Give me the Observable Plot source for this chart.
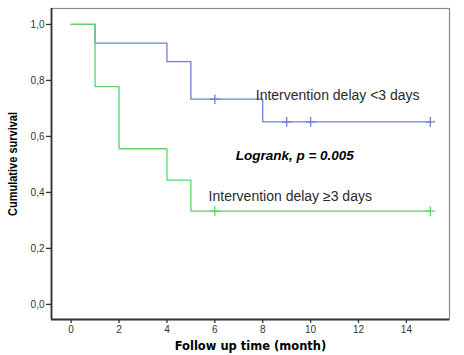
<!DOCTYPE html>
<html>
<head>
<meta charset="utf-8">
<script src="https://cdn.jsdelivr.net/npm/d3@7"></script>
<script src="https://cdn.jsdelivr.net/npm/@observablehq/plot@0.6"></script>
<style>
  html, body { margin: 0; padding: 0; background: #fff; }
</style>
</head>
<body>
<div id="chart"></div>
<script>
// Kaplan-Meier step data
const lowTime = [0, 1, 4, 5, 8, 15];
const lowSurv = [1.0, 0.933, 0.867, 0.733, 0.652, 0.652];
const lowCensor = [6, 9, 10, 15];

const highTime = [0, 1, 2, 4, 5, 15];
const highSurv = [1.0, 0.778, 0.556, 0.444, 0.333, 0.333];
const highCensor = [6, 15];

const xTicks = [0, 2, 4, 6, 8, 10, 12, 14];
const yTicks = [0, 0.2, 0.4, 0.6, 0.8, 1.0];

const labelLow = "Intervention delay <3 days";
const labelHigh = "Intervention delay \u22653 days";
const logrank = "Logrank, p = 0.005";
const xLabel = "Follow up time (month)";
const yLabel = "Cumulative survival";

const blue = "#6b80d2";
const green = "#5fd46c";

const mk = (t, s) => t.map((d, i) => ({t: d, s: s[i]}));
const lowData = mk(lowTime, lowSurv);
const highData = mk(highTime, highSurv);
function stepValue(times, surv, x) {
  let v = surv[0];
  for (let i = 0; i < times.length; i++) if (times[i] <= x) v = surv[i];
  return v;
}
const lowCens = lowCensor.map(t => ({t, s: stepValue(lowTime, lowSurv, t)}));
const highCens = highCensor.map(t => ({t, s: stepValue(highTime, highSurv, t)}));

const xDom = [-0.82, 15.8];
const yDom = [-0.054, 1.057];
const fmt = d => d.toFixed(1).replace(".", ",");

const chart = Plot.plot({
  width: 464,
  height: 355,
  marginLeft: 51,
  marginRight: 15,
  marginTop: 8,
  marginBottom: 36,
  style: {fontFamily: "'Liberation Sans', Arial, sans-serif", fontSize: "10px", color: "#222", background: "#fff"},
  x: {domain: xDom, ticks: xTicks, tickFormat: d => String(d), label: null},
  y: {domain: yDom, ticks: yTicks, tickFormat: fmt, label: null},
  marks: [
    Plot.frame({stroke: "#8a8a8a", strokeWidth: 1.2}),
    Plot.axisX({ticks: xTicks, tickSize: 4, tickPadding: 2, stroke: "#333", strokeWidth: 1.3, fontSize: 10, fill: "#333", label: null}),
    Plot.axisY({ticks: yTicks, tickSize: 5, tickPadding: 2, stroke: "#333", strokeWidth: 1.3, fontSize: 10, fill: "#333", tickFormat: fmt, label: null}),
    Plot.ruleX([xDom[0]], {stroke: "#333", strokeWidth: 1.8}),
    Plot.ruleY([yDom[0]], {stroke: "#333", strokeWidth: 1.8}),
    Plot.line(lowData, {x: "t", y: "s", curve: "step-after", stroke: blue, strokeWidth: 1.3}),
    Plot.line(highData, {x: "t", y: "s", curve: "step-after", stroke: green, strokeWidth: 1.3}),
    Plot.dot(lowCens, {x: "t", y: "s", symbol: "plus", r: 3.2, stroke: blue, strokeWidth: 1.3}),
    Plot.dot(highCens, {x: "t", y: "s", symbol: "plus", r: 3.2, stroke: green, strokeWidth: 1.3}),
    Plot.text([labelLow], {x: 7.71, y: 0.746, text: d => d, textAnchor: "start", fontSize: 14, fill: "#2a2a2a"}),
    Plot.text([logrank], {x: 6.87, y: 0.532, text: d => d, textAnchor: "start", fontSize: 13.5, fontWeight: "bold", fontStyle: "italic", fill: "#000"}),
    Plot.text([labelHigh], {x: 5.74, y: 0.387, text: d => d, textAnchor: "start", fontSize: 14, fill: "#2a2a2a"}),
    Plot.text([xLabel], {frameAnchor: "bottom", dx: 0, dy: 30, text: d => d, fontSize: 11.5, fontWeight: "bold", fontFamily: "'DejaVu Sans', Verdana, sans-serif", fill: "#000"}),
    Plot.text([yLabel], {frameAnchor: "left", textAnchor: "middle", dx: -39, dy: 0, rotate: -90, text: d => d, fontSize: 12.5, fontWeight: "bold", fill: "#000", className: "ylab"})
  ]
});
document.getElementById("chart").appendChild(chart);
// condense the y-axis title like the original (narrow bold face)
chart.querySelectorAll(".ylab text").forEach(t => {
  t.setAttribute("textLength", "104");
  t.setAttribute("lengthAdjust", "spacingAndGlyphs");
});
</script>
</body>
</html>
